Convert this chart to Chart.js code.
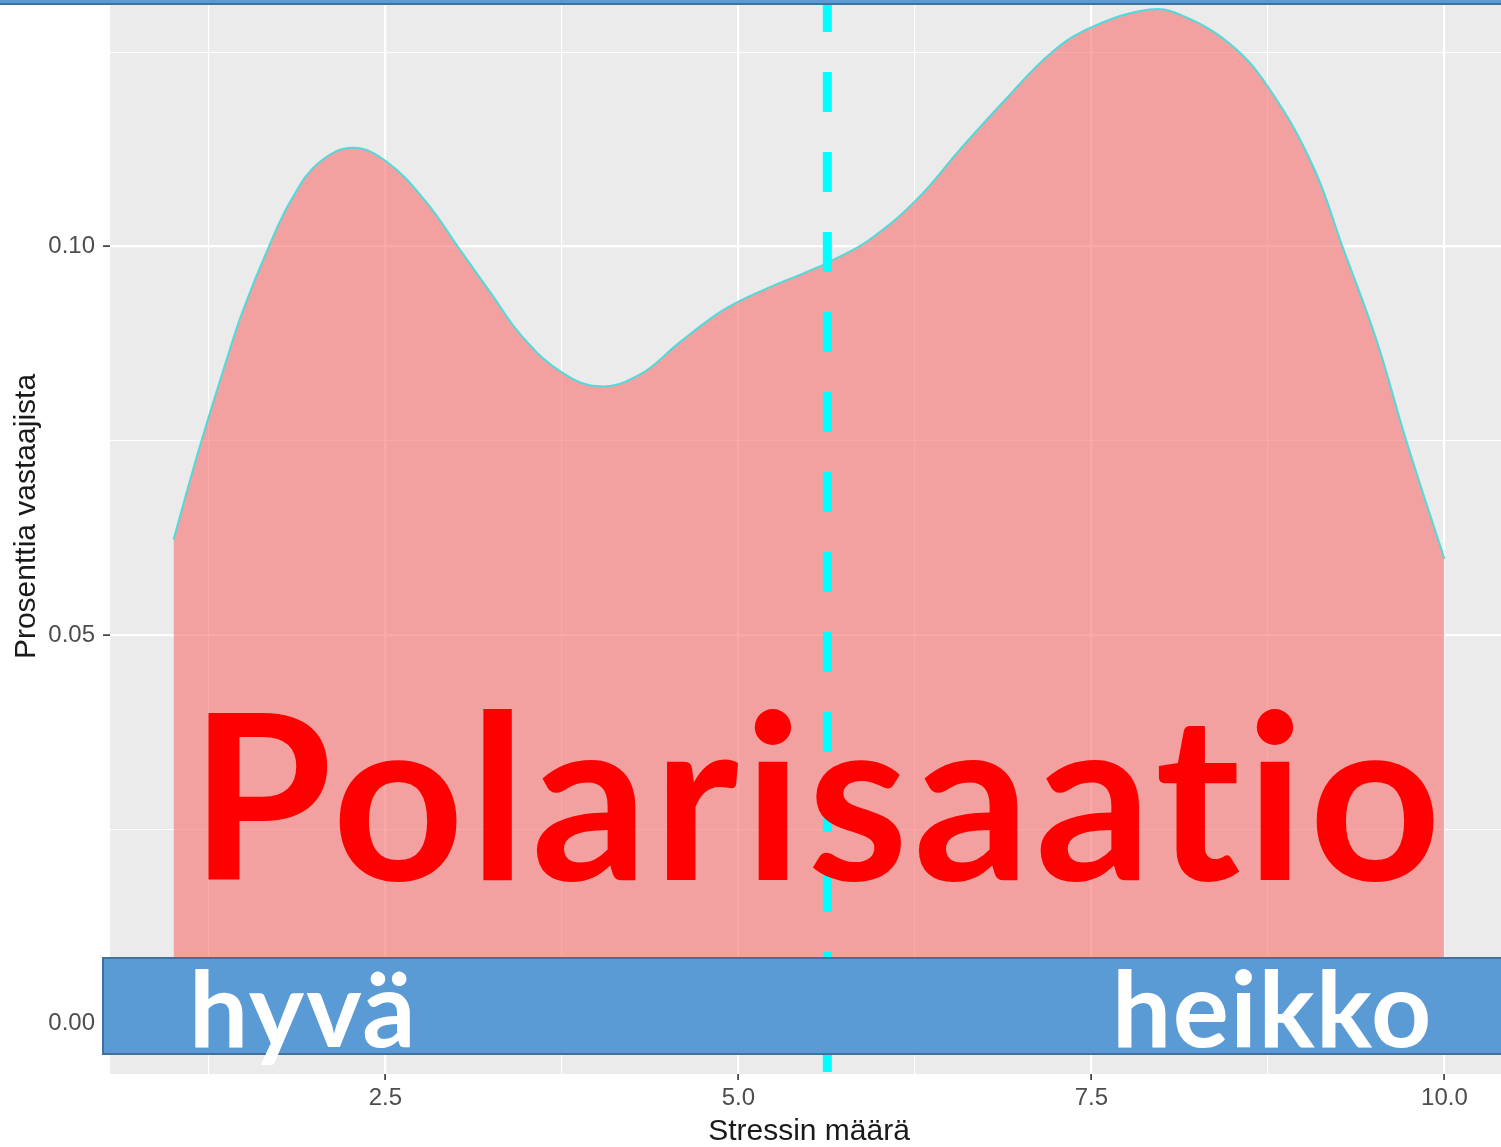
<!DOCTYPE html>
<html>
<head>
<meta charset="utf-8">
<script src="https://cdn.jsdelivr.net/npm/chart.js@4.4.0/dist/chart.umd.min.js"></script>
<style>
    html, body {
        margin: 0;
        padding: 0;
        background: #ffffff;
        width: 1501px;
        height: 1147px;
        overflow: hidden;
        position: relative;
    }
    #chartWrap {
        position: absolute;
        left: 0;
        top: -41px;
        width: 1508px;
        height: 1188px;
    }
    .overlay {
        position: absolute;
        font-family: 'Lato', sans-serif;
        font-weight: 700;
        line-height: 1;
        white-space: nowrap;
        font-variant-ligatures: none;
        font-feature-settings: "liga" 0, "clig" 0;
    }
    #bigTitle { left: 190px; top: 676px; font-size: 230px; letter-spacing: 5px; color: #ff0000; }
    #bar {
        position: absolute;
        left: 102px;
        top: 957px;
        width: 1420px;
        height: 98px;
        box-sizing: border-box;
        background: #5b9bd5;
        border: 2px solid #41719c;
    }
    #good { left: 189px; top: 954px; font-size: 105px; letter-spacing: 2px; color: #ffffff; }
    #weak { left: 1112px; top: 954px; font-size: 105px; letter-spacing: 1.5px; color: #ffffff; }
    #topLine {
        position: absolute;
        left: 0;
        top: 0;
        width: 1501px;
        height: 3px;
        background: #5b9bd5;
        border-bottom: 2px solid #41719c;
    }
</style>
</head>
<body>
<div id="chartWrap"><canvas id="densityChart" width="1508" height="1188"></canvas></div>
<div class="overlay" id="bigTitle">Polarisaatio</div>
<div id="bar"></div>
<div class="overlay" id="good">hyvä</div>
<div class="overlay" id="weak">heikko</div>
<div id="topLine"></div>

<script>
// density curve
const stressX = [1.0, 1.18, 1.37, 1.49, 1.68, 1.84, 2.03, 2.27, 2.51, 2.79, 3.02, 3.24, 3.47, 3.75,
    4.02, 4.30, 4.58, 4.84, 5.0, 5.24, 5.48, 5.64, 5.93, 6.26, 6.57, 6.87, 7.22, 7.51, 7.91, 8.12,
    8.48, 8.76, 9.07, 9.28, 9.52, 9.73, 10.0];
const densityY = [0.0623, 0.0739, 0.0851, 0.0917, 0.1002, 0.1062, 0.1108, 0.1127, 0.1109, 0.1057,
    0.0998, 0.0942, 0.0884, 0.0838, 0.0820, 0.0835, 0.0876, 0.0912, 0.0929, 0.0949, 0.0967, 0.0980,
    0.1009, 0.1060, 0.1125, 0.1185, 0.1250, 0.1283, 0.1305, 0.1299, 0.1261, 0.1203, 0.1103, 0.0999,
    0.0879, 0.0750, 0.0598];
const meanStress = 5.63;

const xTickValues = [1.25, 2.5, 3.75, 5.0, 6.25, 7.5, 8.75, 10.0];
const xTickLabels = ['', '2.5', '', '5.0', '', '7.5', '', '10.0'];
const yTickValues = [0, 0.025, 0.05, 0.075, 0.1, 0.125];
const yTickLabels = ['0.00', '', '0.05', '', '0.10', ''];

const tickFont = { family: 'Liberation Sans', size: 24 };
const titleFont = { family: 'Liberation Sans', size: 30 };

// grey ggplot panel
const panelPlugin = {
    id: 'panel',
    beforeDraw(chart) {
        const { ctx, chartArea } = chart;
        ctx.save();
        ctx.fillStyle = '#ebebeb';
        ctx.fillRect(chartArea.left, chartArea.top, chartArea.right - chartArea.left, chartArea.bottom - chartArea.top);
        ctx.restore();
    }
};

// dashed mean line
const meanLinePlugin = {
    id: 'meanLine',
    afterDatasetsDraw(chart) {
        const { ctx, chartArea, scales } = chart;
        const px = scales.x.getPixelForValue(meanStress);
        ctx.save();
        ctx.strokeStyle = '#00ffff';
        ctx.lineWidth = 9;
        ctx.setLineDash([40, 40]);
        ctx.lineDashOffset = 47;
        ctx.beginPath();
        ctx.moveTo(px, chartArea.top);
        ctx.lineTo(px, chartArea.bottom);
        ctx.stroke();
        ctx.restore();
    }
};

const ctx = document.getElementById('densityChart').getContext('2d');
new Chart(ctx, {
    type: 'line',
    data: {
        datasets: [{
            data: stressX.map((x, i) => ({ x: x, y: densityY[i] })),
            borderColor: 'rgba(70, 220, 220, 0.95)',
            borderWidth: 2,
            backgroundColor: 'rgba(246, 112, 110, 0.6)',
            fill: 'origin',
            pointRadius: 0,
            tension: 0.4
        }]
    },
    options: {
        responsive: false,
        devicePixelRatio: 1,
        animation: false,
        events: [],
        layout: { padding: 0 },
        plugins: {
            legend: { display: false },
            tooltip: { enabled: false }
        },
        scales: {
            x: {
                type: 'linear',
                min: 0.55,
                max: 10.45,
                afterBuildTicks: s => { s.ticks = xTickValues.map(v => ({ value: v })); },
                afterFit: s => { s.height = 73; s.paddingLeft = 0; s.paddingRight = 0; },
                ticks: {
                    callback: (v, i) => xTickLabels[i],
                    autoSkip: false,
                    maxRotation: 0,
                    color: '#4d4d4d',
                    font: tickFont,
                    padding: 4
                },
                grid: {
                    color: '#ffffff',
                    lineWidth: c => xTickLabels[c.index] ? 2.2 : 1.1,
                    tickLength: 6,
                    tickWidth: 1.6,
                    tickColor: c => xTickLabels[c.index] ? '#333333' : 'rgba(0,0,0,0)'
                },
                border: { display: false },
                title: {
                    display: true,
                    text: 'Stressin määrä',
                    color: '#1a1a1a',
                    font: titleFont,
                    padding: { top: 0, bottom: -3 }
                }
            },
            y: {
                type: 'linear',
                min: -0.0065,
                max: 0.137,
                afterBuildTicks: s => { s.ticks = yTickValues.map(v => ({ value: v })); },
                afterFit: s => { s.width = 110; s.paddingTop = 0; s.paddingBottom = 0; },
                ticks: {
                    callback: (v, i) => yTickLabels[i],
                    autoSkip: false,
                    color: '#4d4d4d',
                    font: tickFont,
                    padding: 8
                },
                grid: {
                    color: '#ffffff',
                    lineWidth: c => yTickLabels[c.index] ? 2.2 : 1.1,
                    tickLength: 7,
                    tickWidth: 1.6,
                    tickColor: c => yTickLabels[c.index] ? '#333333' : 'rgba(0,0,0,0)'
                },
                border: { display: false },
                title: {
                    display: true,
                    text: 'Prosenttia vastaajista',
                    color: '#1a1a1a',
                    font: titleFont,
                    padding: { top: 9, bottom: 0 }
                }
            }
        }
    },
    plugins: [panelPlugin, meanLinePlugin]
});
</script>
</body>
</html>
